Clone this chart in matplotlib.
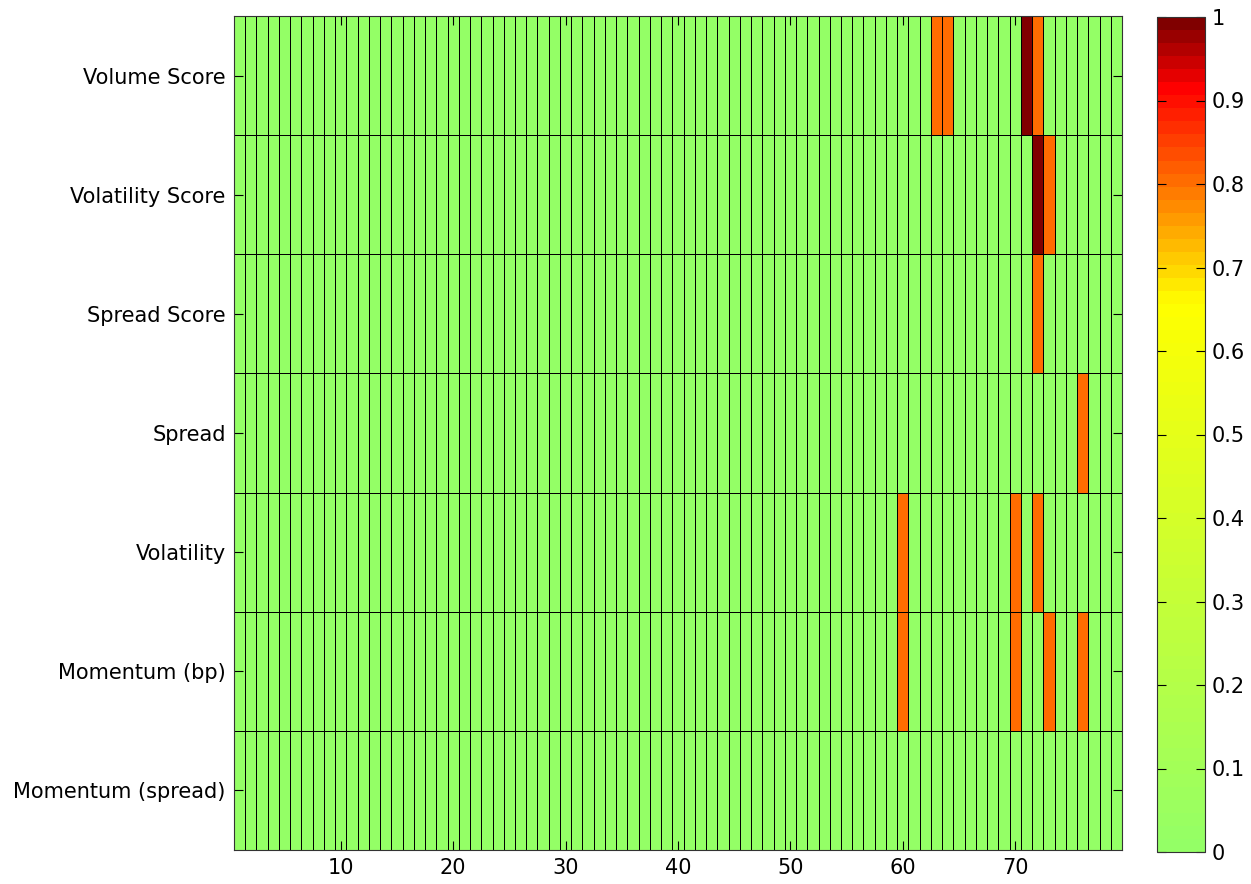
import numpy as np
import matplotlib.pyplot as plt
from matplotlib.colors import LinearSegmentedColormap
from matplotlib.ticker import FormatStrFormatter

plt.rcParams['font.family'] = ['DejaVu Sans']

# row labels, top to bottom
rows = ["Volume Score", "Volatility Score", "Spread Score", "Spread",
        "Volatility", "Momentum (bp)", "Momentum (spread)"]
n_cols = 79

# flagged cells per row: column -> value (all other cells are 0)
volume_score = {63: 0.8, 64: 0.8, 71: 1.0, 72: 0.8}
volatility_score = {72: 1.0, 73: 0.8}
spread_score = {72: 0.8}
spread = {76: 0.8}
volatility = {60: 0.8, 70: 0.8, 72: 0.8}
momentum_bp = {60: 0.8, 70: 0.8, 73: 0.8, 76: 0.8}
momentum_spread = {}

row_hits = [volume_score, volatility_score, spread_score, spread,
            volatility, momentum_bp, momentum_spread]

data = np.zeros((len(rows), n_cols))
for r, hits in enumerate(row_hits):
    for col, val in hits.items():
        data[r, col - 1] = val

# green -> yellow -> red -> dark red, 64 steps like the original
cmap = LinearSegmentedColormap.from_list(
    "green_red",
    [(0.0, (0.58, 1.0, 0.40)), (0.66, (1.0, 1.0, 0.0)),
     (0.92, (1.0, 0.0, 0.0)), (1.0, (0.5, 0.0, 0.0))], N=64)

fig = plt.figure(figsize=(12.51, 8.84), dpi=100)
ax = fig.add_axes([234 / 1251, 1 - 850 / 884, (1122 - 234) / 1251, (850 - 16) / 884])
cax = fig.add_axes([1157 / 1251, 1 - 852 / 884, 48 / 1251, (852 - 17) / 884])

x_edges = np.arange(0.5, n_cols + 1)
y_edges = np.arange(0.5, len(rows) + 1)
mesh = ax.pcolormesh(x_edges, y_edges, data, cmap=cmap, vmin=0, vmax=1,
                     edgecolors="#000000", linewidth=0.7)
ax.set_xlim(0.5, n_cols + 0.5)
ax.set_ylim(len(rows) + 0.5, 0.5)

ax.set_yticks(range(1, len(rows) + 1))
ax.set_yticklabels(rows)
ax.set_xticks(range(10, 80, 10))
ax.tick_params(direction="in", top=True, right=True, length=6.5, width=0.8,
               labelsize=15, pad=6)
for s in ax.spines.values():
    s.set_color("#333333")
    s.set_linewidth(0.8)

cb = fig.colorbar(mesh, cax=cax, ticks=np.arange(0, 1.01, 0.1))
cb.ax.yaxis.set_major_formatter(FormatStrFormatter("%g"))
cb.ax.tick_params(direction="in", left=True, right=True, length=6.5, width=0.8,
                  labelsize=15, pad=5)
cb.outline.set_edgecolor("#333333")
cb.outline.set_linewidth(0.8)

fig.savefig("out.png", dpi=100)
